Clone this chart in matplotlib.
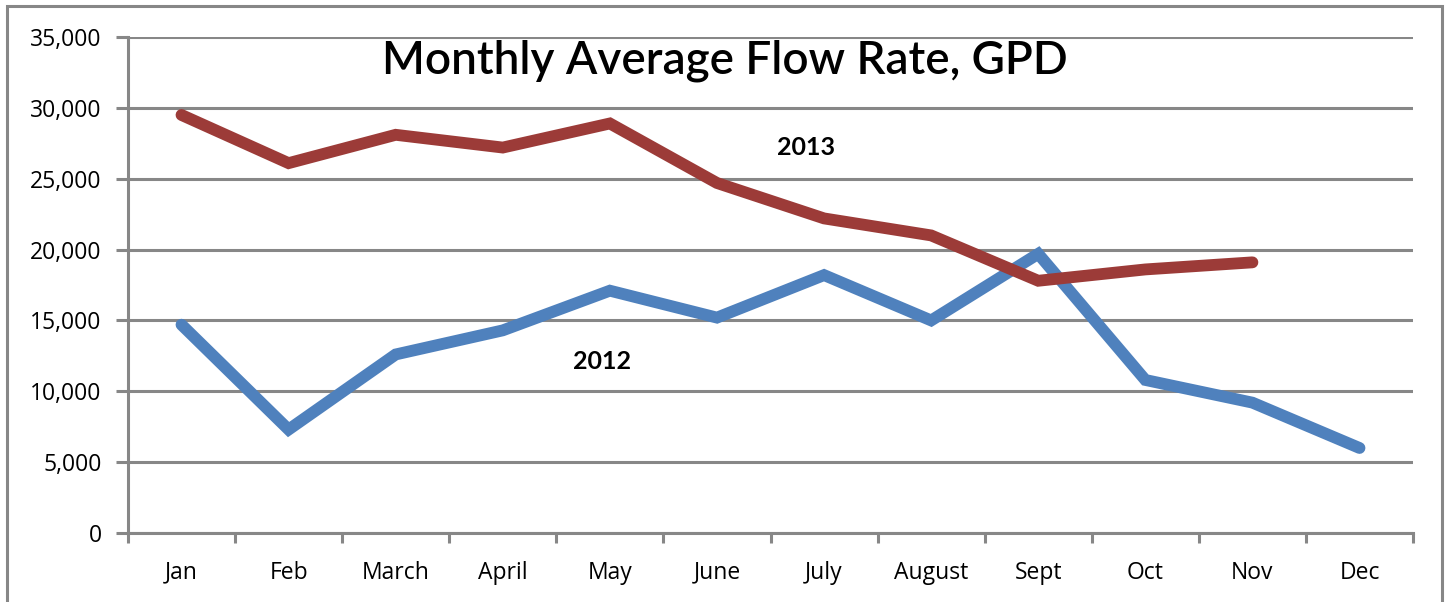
#!/usr/bin/env python
import numpy as np
import matplotlib.pyplot as plt
from matplotlib.patches import Rectangle
from matplotlib.ticker import FuncFormatter

months = ["Jan", "Feb", "March", "April", "May", "June", "July",
          "August", "Sept", "Oct", "Nov", "Dec"]
flow_2012 = [14700, 7300, 12600, 14300, 17100, 15200, 18200,
             15000, 19700, 10800, 9200, 6000]
flow_2013 = [29500, 26100, 28100, 27200, 28900, 24700, 22200,
             21000, 17800, 18600, 19100]
yticks = np.arange(0, 35001, 5000)

GRID = "#878787"


def set_font():
    plt.rcParams["font.family"] = ["Open Sans", "DejaVu Sans"]
    plt.rcParams["font.size"] = 16.5


def main():
    set_font()
    fig = plt.figure(figsize=(14.49, 6.02), dpi=100)
    ax = fig.add_axes([0.0883, 0.1146, 0.8869, 0.8239])

    x = np.arange(len(months))
    ax.plot(x, flow_2012, '-', color="#4F81BD", lw=8.5, solid_capstyle='round',
            solid_joinstyle='miter', zorder=3)
    ax.plot(x[:len(flow_2013)], flow_2013, '-', color="#9C3B38", lw=8.5,
            solid_capstyle='round', solid_joinstyle='miter', zorder=3)

    ax.set_xlim(-0.5, len(months) - 0.5)
    ax.set_ylim(0, 35000)
    ax.set_yticks(yticks)
    ax.yaxis.set_major_formatter(FuncFormatter(lambda v, p: "{:,.0f}".format(v)))
    ax.grid(axis='y', color=GRID, lw=2.2, zorder=1)

    ax.set_xticks(x)
    ax.set_xticklabels(months)
    ax.set_xticks(np.arange(-0.5, len(months)), minor=True)
    ax.tick_params(axis='x', which='major', length=0, pad=20)
    ax.tick_params(axis='x', which='minor', length=7, width=2.2, color=GRID)
    ax.tick_params(axis='y', length=9, width=2.2, color=GRID, pad=10)

    for s in ("top", "right"):
        ax.spines[s].set_visible(False)
    for s in ("left", "bottom"):
        ax.spines[s].set_color(GRID)
        ax.spines[s].set_linewidth(2.2)

    ax.text(5.83, 27200, "2013", fontsize=18, fontweight='bold',
            ha='center', va='center', family=["Lato", "DejaVu Sans"])
    ax.text(3.93, 12100, "2012", fontsize=18, fontweight='bold',
            ha='center', va='center', family=["Lato", "DejaVu Sans"])

    fig.text(0.5, 0.899, "Monthly Average Flow Rate, GPD", fontsize=33,
             fontweight='semibold', ha='center', va='center',
             family=["Lato", "DejaVu Sans"])

    fig.patches.append(Rectangle((0.005, -0.01), 0.99, 1.0, transform=fig.transFigure,
                                 fill=False, edgecolor=GRID, lw=2.2))

    plt.savefig("out.png", dpi=100)


if __name__ == "__main__":
    main()
